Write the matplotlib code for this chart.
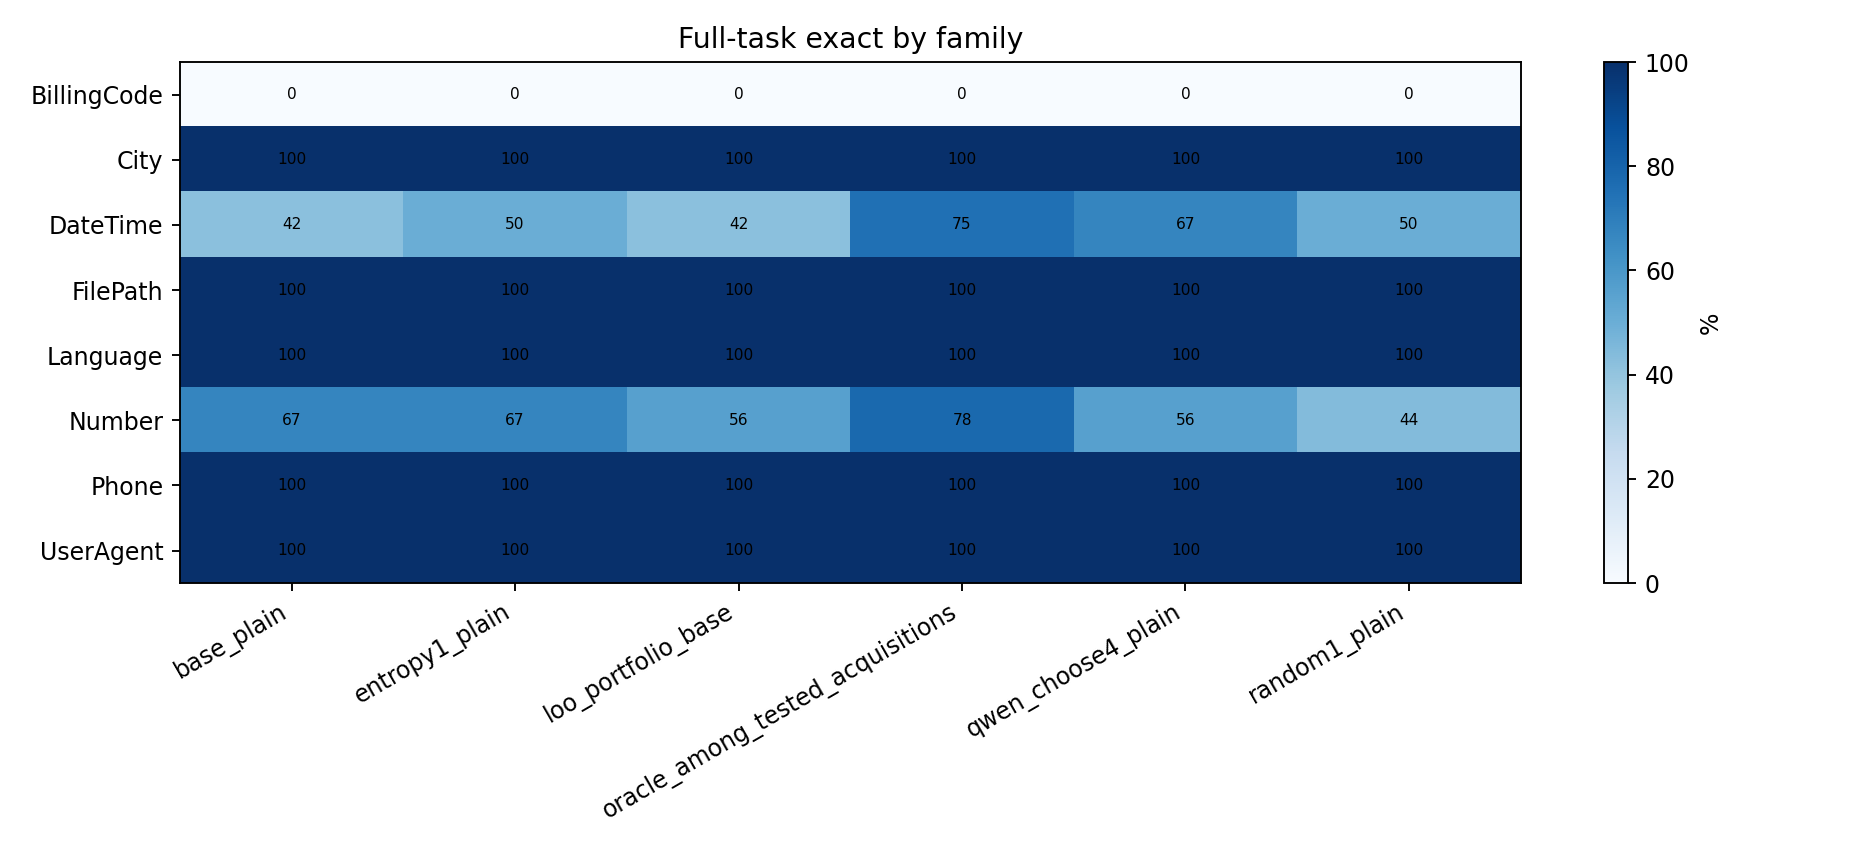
import numpy as np
import matplotlib.pyplot as plt

families = ['BillingCode', 'City', 'DateTime', 'FilePath', 'Language', 'Number', 'Phone', 'UserAgent']
methods = ['base_plain', 'entropy1_plain', 'loo_portfolio_base',
           'oracle_among_tested_acquisitions', 'qwen_choose4_plain', 'random1_plain']
values = np.array([
    [0, 0, 0, 0, 0, 0],
    [100, 100, 100, 100, 100, 100],
    [42, 50, 42, 75, 67, 50],
    [100, 100, 100, 100, 100, 100],
    [100, 100, 100, 100, 100, 100],
    [67, 67, 56, 78, 56, 44],
    [100, 100, 100, 100, 100, 100],
    [100, 100, 100, 100, 100, 100],
])

fig = plt.figure(figsize=(11, 5), dpi=170)
ax = fig.add_axes([0.0962, 0.314, 0.717, 0.613])
cax = fig.add_axes([0.858, 0.314, 0.0128, 0.613])

im = ax.imshow(values, cmap='Blues', vmin=0, vmax=100, aspect='auto')
ax.set_xticks(range(len(methods)))
ax.set_xticklabels(methods, rotation=30, ha='right')
ax.set_yticks(range(len(families)))
ax.set_yticklabels(families)
for i in range(len(families)):
    for j in range(len(methods)):
        ax.text(j, i, '%d' % values[i, j], ha='center', va='center', fontsize=6.5, color='black')
ax.set_title('Full-task exact by family')

cb = fig.colorbar(im, cax=cax)
cb.set_label('%')

fig.savefig('out.png', dpi=170)
